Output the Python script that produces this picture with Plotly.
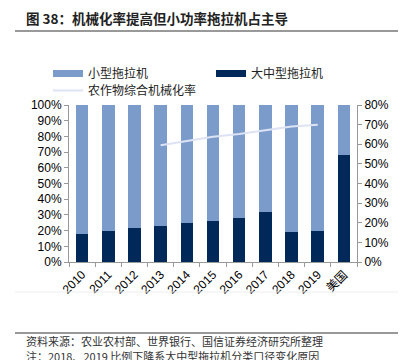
import plotly.graph_objects as go

categories = ["2010", "2011", "2012", "2013", "2014", "2015", "2016", "2017", "2018", "2019", "美国"]
large_medium = [0.177, 0.195, 0.215, 0.230, 0.247, 0.264, 0.279, 0.319, 0.190, 0.200, 0.680]
small = [round(1 - v, 3) for v in large_medium]
mech_years = ["2013", "2014", "2015", "2016", "2017", "2018", "2019"]
mech_rate = [0.595, 0.616, 0.638, 0.652, 0.672, 0.691, 0.700]

LIGHT = "#7b9ccb"
DARK = "#00295a"
LINE = "#dde3f4"
FONT = "Liberation Sans, Noto Sans CJK SC, sans-serif"
CJK = "Noto Sans CJK SC"

# page has an 8px body margin: screen = figure + 8
OFF = 8
W, H = 406, 360
L, R, T, B = 69 - OFF, W - (357 - OFF), 105 - OFF, H - (262 - OFF)
PW, PH = W - L - R, H - T - B


def px(sx):
    return (sx - OFF - L) / PW


def py(sy):
    return (H - B - (sy - OFF)) / PH


fig = go.Figure()
fig.add_trace(go.Bar(x=categories, y=large_medium, name="大中型拖拉机",
                     marker=dict(color=DARK, line=dict(width=0)), showlegend=False))
fig.add_trace(go.Bar(x=categories, y=small, name="小型拖拉机",
                     marker=dict(color=LIGHT, line=dict(width=0)), showlegend=False))
fig.add_trace(go.Scatter(x=mech_years, y=mech_rate, name="农作物综合机械化率", yaxis="y2",
                         mode="lines", line=dict(color=LINE, width=2), legend="legend3"))
fig.add_trace(go.Scatter(x=[None], y=[None], mode="lines", name="小型拖拉机",
                         line=dict(color=LIGHT, width=7), legend="legend"))
fig.add_trace(go.Scatter(x=[None], y=[None], mode="lines", name="大中型拖拉机",
                         line=dict(color=DARK, width=7), legend="legend2"))

leg = dict(orientation="h", xanchor="left", yanchor="top",
           font=dict(size=12, family=CJK, color="#222"),
           itemwidth=30, bgcolor="rgba(0,0,0,0)")

fig.update_layout(
    width=W, height=H,
    barmode="stack", bargap=0.52,
    plot_bgcolor="white", paper_bgcolor="white",
    margin=dict(l=L, r=R, t=T, b=B, autoexpand=False),
    font=dict(family=FONT, size=12, color="#000"),
    showlegend=True,
    legend=dict(leg, x=px(48), y=py(59)),
    legend2=dict(leg, x=px(211), y=py(59)),
    legend3=dict(leg, x=px(48), y=py(76)),
    xaxis=dict(type="category", tickangle=-45, ticks="outside", ticklen=4,
               tickson="boundaries", tickcolor="#999", showline=True,
               linecolor="#999", linewidth=1, showgrid=False,
               tickfont=dict(size=12, family=FONT)),
    yaxis=dict(range=[0, 1], dtick=0.1, tickformat=".0%", showgrid=False,
               showline=True, linecolor="#999", ticks="outside", ticklen=4,
               tickcolor="#999", zeroline=False, tickfont=dict(size=12)),
    yaxis2=dict(range=[0, 0.8], dtick=0.1, tickformat=".0%", overlaying="y",
                side="right", showgrid=False, showline=True, linecolor="#999",
                ticks="outside", ticklen=4, tickcolor="#999", zeroline=False,
                tickfont=dict(size=12)),
)

for sy, color, width in [(31, "#999", 2), (292, "#eeeeee", 1), (333, "#333", 1)]:
    fig.add_shape(type="line", xref="paper", yref="paper", x0=px(15), x1=px(400),
                  y0=py(sy), y1=py(sy), line=dict(color=color, width=width))

fig.add_annotation(xref="paper", yref="paper", x=px(24), y=py(17.5), xanchor="left",
                   yanchor="middle", showarrow=False, align="left", width=330,
                   text="图 38：机械化率提高但小功率拖拉机占主导",
                   font=dict(size=13.5, family=CJK, color="#222", weight="bold"))
fig.add_annotation(xref="paper", yref="paper", x=px(24), y=py(341), xanchor="left",
                   yanchor="middle", showarrow=False, align="left", width=330,
                   text="资料来源：农业农村部、世界银行、国信证券经济研究所整理",
                   font=dict(size=11, family=CJK, color="#333"))
fig.add_annotation(xref="paper", yref="paper", x=px(24), y=py(356), xanchor="left",
                   yanchor="middle", showarrow=False, align="left", width=330,
                   text="注：2018、2019 比例下降系大中型拖拉机分类口径变化原因",
                   font=dict(size=11, family=CJK, color="#333"))

fig.write_html("out.html")
